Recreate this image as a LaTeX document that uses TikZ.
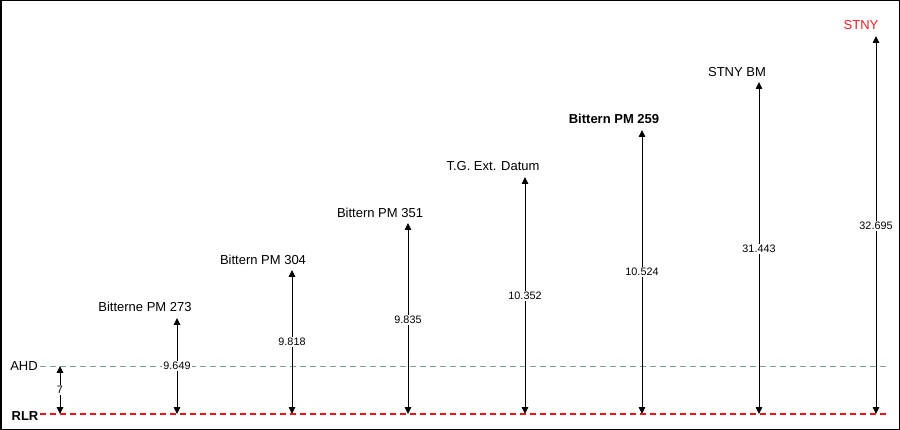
\documentclass[tikz,border=0pt]{standalone}
\usepackage{fontspec}
\setmainfont{Liberation Sans}
\usetikzlibrary{arrows.meta}
\definecolor{ahdcol}{RGB}{120,160,135}
\definecolor{rlrred}{RGB}{235,20,20}
\definecolor{stnyred}{RGB}{240,30,30}
\tikzset{
  dimarrow/.style={line width=0.9pt, {Triangle[length=7pt,width=6.5pt]}-{Triangle[length=7pt,width=6.5pt]}},
  vallabel/.style={font=\fontsize{10.8}{12}\selectfont, fill=white, inner sep=1pt},
  title/.style={font=\fontsize{13}{15}\selectfont, inner sep=0pt},
  datum/.style={font=\fontsize{13}{15}\selectfont, inner sep=0pt},
}
\begin{document}
\begin{tikzpicture}[x=1pt,y=-1pt]
\useasboundingbox (0,0) rectangle (900,430);
\fill[white] (0,0) rectangle (900,430);
\draw[line width=1.5pt] (0.75,0.75) rectangle (899.25,429.25);

% datum lines
\coordinate (ahdL) at (40,366);
\coordinate (ahdR) at (888,366);
\coordinate (rlrL) at (40,414);
\coordinate (rlrR) at (888,414);
\draw[ahdcol, line width=0.8pt, dash pattern=on 6pt off 4pt] (ahdL) -- (ahdR);
\node[datum] (ahd) at (24,366) {AHD};
\node[datum, font=\fontsize{13}{15}\selectfont\bfseries] (rlr) at (25,416) {RLR};

% AHD offset
\coordinate (a0) at (60,414);
\coordinate (a1) at (60,366);
\draw[dimarrow] (a0) -- (a1);
\node[vallabel] (v0) at (60,390) {7};

% columns
\foreach \i/\x/\top/\vy/\val in {1/177/318/366/9.649, 2/292/270/342/9.818, 3/408/223/320/9.835, 4/525/177/296/10.352, 5/642/130/272/10.524, 6/759/82/249/31.443, 7/876/36/226/32.695}{
  \coordinate (b\i) at (\x,414);
  \coordinate (t\i) at (\x,\top);
  \draw[dimarrow] (b\i) -- (t\i);
  \node[vallabel] (v\i) at (\x,\vy) {\val};
}

\draw[rlrred, line width=2.2pt, dash pattern=on 6pt off 4pt] (rlrL) -- (rlrR);

\node[title] (n1) at (145,307) {Bitterne PM 273};
\node[title] (n2) at (263,260) {Bittern PM 304};
\node[title] (n3) at (380,213) {Bittern PM 351};
\node[title] (n4) at (493,166) {T.G. Ext. Datum};
\node[title, font=\fontsize{13}{15}\selectfont\bfseries] (n5) at (614,119) {Bittern PM 259};
\node[title] (n6) at (737,72) {STNY BM};
\node[title, text=stnyred] (n7) at (861,25) {STNY};
\end{tikzpicture}
\end{document}
